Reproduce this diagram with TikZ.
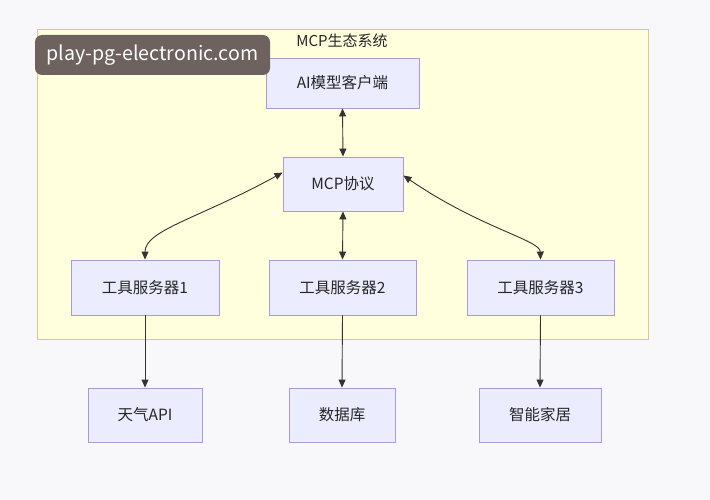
\documentclass[tikz,border=0pt]{standalone}
\usepackage{fontspec}
\setmainfont{Noto Sans CJK SC}
\usetikzlibrary{arrows.meta}
\definecolor{bg}{HTML}{F8F8FA}
\definecolor{clfill}{HTML}{FFFFDE}
\definecolor{clline}{HTML}{CFCF8A}
\definecolor{nfill}{HTML}{ECECFF}
\definecolor{nline}{HTML}{A99BD8}
\definecolor{edge}{HTML}{333333}
\definecolor{wm}{HTML}{6E625E}
\tikzset{
  box/.style={draw=nline, fill=nfill, line width=0.9pt, inner sep=0pt, font=\fontsize{15.5}{18}\selectfont, text=black!85},
  link/.style={draw=edge, line width=0.9pt, -{Triangle[length=8pt,width=7pt]}},
  blink/.style={draw=edge, line width=0.9pt, {Triangle[length=8pt,width=7pt]}-{Triangle[length=8pt,width=7pt]}},
}
\begin{document}
\begin{tikzpicture}[x=1pt,y=-1pt]
\useasboundingbox (0,0) rectangle (710,500);
\fill[bg] (0,0) rectangle (710,500);
\draw[clline, fill=clfill, line width=0.8pt] (37,29) rectangle (648,339);
\node[font=\fontsize{15}{18}\selectfont, text=black!85] (title) at (342,41) {MCP生态系统};
\node[box, minimum width=153pt, minimum height=50pt] (ai) at (342.5,83) {AI模型客户端};
\node[box, minimum width=120pt, minimum height=54pt] (mcp) at (343,184) {MCP协议};
\node[box, minimum width=148pt, minimum height=55pt] (t1) at (145,287.5) {工具服务器1};
\node[box, minimum width=147pt, minimum height=55pt] (t2) at (342.5,287.5) {工具服务器2};
\node[box, minimum width=147pt, minimum height=55pt] (t3) at (540.5,287.5) {工具服务器3};
\node[box, minimum width=114pt, minimum height=54pt] (w) at (145,415) {天气API};
\node[box, minimum width=106pt, minimum height=54pt] (db) at (342,415) {数据库};
\node[box, minimum width=122pt, minimum height=54pt] (sh) at (540,415) {智能家居};
\draw[blink] (ai.south) -- (mcp.north);
\draw[blink] (mcp.south) -- (t2.north);
\draw[blink] ([yshift=-16pt]mcp.north west) .. controls (200,218) and (145,230) .. (t1.north);
\draw[blink] ([yshift=-19pt]mcp.north east) .. controls (480,228) and (540,240) .. (t3.north);
\draw[link] (t1.south) -- (w.north);
\draw[link] (t2.south) -- (db.north);
\draw[link] (t3.south) -- (sh.north);
\node[fill=wm, rounded corners=7pt, minimum width=235pt, minimum height=40pt, inner sep=0pt, text=white, font=\fontsize{19.6}{22}\selectfont] (wmk) at (152.5,55) {play-pg-electronic.com};
\end{tikzpicture}
\end{document}
